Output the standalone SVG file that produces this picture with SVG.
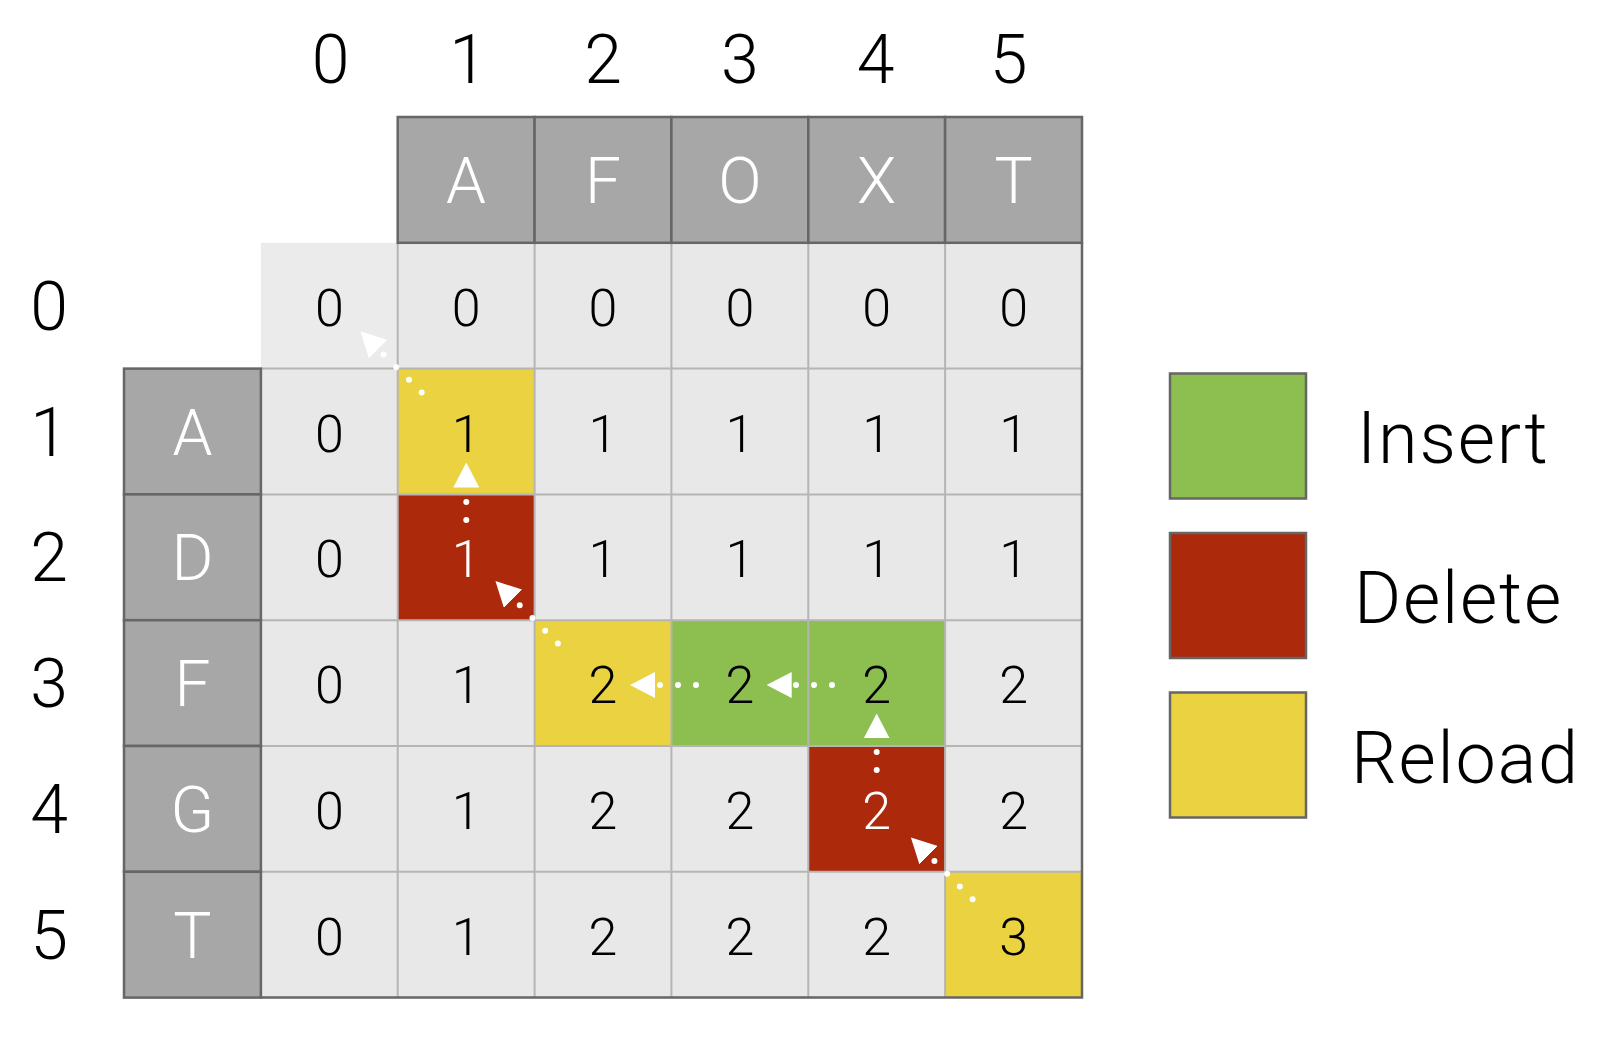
<svg xmlns="http://www.w3.org/2000/svg" width="1606" height="1044" viewBox="0 0 1606 1044">
<style>
text{font-family:Roboto,"Liberation Sans",sans-serif;font-weight:300;text-anchor:middle}
.idx{font-size:68px;fill:#000}
.hd{fill:#a6a7a6;stroke:#666;stroke-width:2.5}
.hl{font-size:64px;fill:#fff}
.cell{fill:#e8e8e8}
.v{font-size:52px;fill:#000}
.vw{font-size:52px;fill:#fff}
.ye{fill:#ebd240}
.rd{fill:#ac290b}
.gr{fill:#8cbe50}
.grid{stroke:#b5b5b5;stroke-width:2;fill:none}
.outer{stroke:#666;stroke-width:2.5;fill:none}
.lg{stroke:#666;stroke-width:2.5}
.lt{font-size:72px;fill:#000;text-anchor:start;letter-spacing:1.8px}
.ar{fill:none;stroke:#fff;stroke-width:6;stroke-linecap:round;stroke-dasharray:0 18;marker-end:url(#tri)}
</style>
<defs>
<marker id="tri" markerUnits="userSpaceOnUse" viewBox="0 0 25 26" refX="0" refY="13" markerWidth="25" markerHeight="26" orient="auto">
<path d="M0,0 L25,13 L0,26 Z" fill="#fff"/>
</marker>
</defs>
<rect width="1606" height="1044" fill="#fff"/>

<g id="col-indices">
<text class="idx" x="330.5" y="83">0</text>
<text class="idx" x="468" y="83">1</text>
<text class="idx" x="603" y="83">2</text>
<text class="idx" x="739.9" y="83">3</text>
<text class="idx" x="875.5" y="83">4</text>
<text class="idx" x="1008.6" y="83">5</text>
</g>
<g id="row-indices">
<text class="idx" x="49" y="330">0</text>
<text class="idx" x="49" y="455.5">1</text>
<text class="idx" x="49" y="581.3">2</text>
<text class="idx" x="49" y="707.1">3</text>
<text class="idx" x="49" y="832.9">4</text>
<text class="idx" x="49" y="958.7">5</text>
</g>

<g id="cells">
<g id="c0-0"><rect x="260.9" y="242.8" width="136.8" height="125.8" fill="#ebebeb"/><text class="v" x="329.3" y="325.7">0</text></g>
<g id="c0-1"><rect class="cell" x="397.7" y="242.8" width="136.9" height="125.8"/><text class="v" x="466.1" y="325.7">0</text></g>
<g id="c0-2"><rect class="cell" x="534.6" y="242.8" width="136.8" height="125.8"/><text class="v" x="603" y="325.7">0</text></g>
<g id="c0-3"><rect class="cell" x="671.4" y="242.8" width="136.9" height="125.8"/><text class="v" x="739.9" y="325.7">0</text></g>
<g id="c0-4"><rect class="cell" x="808.3" y="242.8" width="136.8" height="125.8"/><text class="v" x="876.7" y="325.7">0</text></g>
<g id="c0-5"><rect class="cell" x="945.1" y="242.8" width="136.9" height="125.8"/><text class="v" x="1013.6" y="325.7">0</text></g>

<g id="c1-0"><rect class="cell" x="260.9" y="368.6" width="136.8" height="125.8"/><text class="v" x="329.3" y="451.5">0</text></g>
<g id="c1-1"><rect class="ye" x="397.7" y="368.6" width="136.9" height="125.8"/><text class="v" x="466.1" y="451.5">1</text></g>
<g id="c1-2"><rect class="cell" x="534.6" y="368.6" width="136.8" height="125.8"/><text class="v" x="603" y="451.5">1</text></g>
<g id="c1-3"><rect class="cell" x="671.4" y="368.6" width="136.9" height="125.8"/><text class="v" x="739.9" y="451.5">1</text></g>
<g id="c1-4"><rect class="cell" x="808.3" y="368.6" width="136.8" height="125.8"/><text class="v" x="876.7" y="451.5">1</text></g>
<g id="c1-5"><rect class="cell" x="945.1" y="368.6" width="136.9" height="125.8"/><text class="v" x="1013.6" y="451.5">1</text></g>

<g id="c2-0"><rect class="cell" x="260.9" y="494.4" width="136.8" height="125.8"/><text class="v" x="329.3" y="577.3">0</text></g>
<g id="c2-1"><rect class="rd" x="397.7" y="494.4" width="136.9" height="125.8"/><text class="vw" x="466.1" y="577.3">1</text></g>
<g id="c2-2"><rect class="cell" x="534.6" y="494.4" width="136.8" height="125.8"/><text class="v" x="603" y="577.3">1</text></g>
<g id="c2-3"><rect class="cell" x="671.4" y="494.4" width="136.9" height="125.8"/><text class="v" x="739.9" y="577.3">1</text></g>
<g id="c2-4"><rect class="cell" x="808.3" y="494.4" width="136.8" height="125.8"/><text class="v" x="876.7" y="577.3">1</text></g>
<g id="c2-5"><rect class="cell" x="945.1" y="494.4" width="136.9" height="125.8"/><text class="v" x="1013.6" y="577.3">1</text></g>

<g id="c3-0"><rect class="cell" x="260.9" y="620.2" width="136.8" height="125.8"/><text class="v" x="329.3" y="703.1">0</text></g>
<g id="c3-1"><rect class="cell" x="397.7" y="620.2" width="136.9" height="125.8"/><text class="v" x="466.1" y="703.1">1</text></g>
<g id="c3-2"><rect class="ye" x="534.6" y="620.2" width="136.8" height="125.8"/><text class="v" x="603" y="703.1">2</text></g>
<g id="c3-3"><rect class="gr" x="671.4" y="620.2" width="136.9" height="125.8"/><text class="v" x="739.9" y="703.1">2</text></g>
<g id="c3-4"><rect class="gr" x="808.3" y="620.2" width="136.8" height="125.8"/><text class="v" x="876.7" y="703.1">2</text></g>
<g id="c3-5"><rect class="cell" x="945.1" y="620.2" width="136.9" height="125.8"/><text class="v" x="1013.6" y="703.1">2</text></g>

<g id="c4-0"><rect class="cell" x="260.9" y="746" width="136.8" height="125.8"/><text class="v" x="329.3" y="828.9">0</text></g>
<g id="c4-1"><rect class="cell" x="397.7" y="746" width="136.9" height="125.8"/><text class="v" x="466.1" y="828.9">1</text></g>
<g id="c4-2"><rect class="cell" x="534.6" y="746" width="136.8" height="125.8"/><text class="v" x="603" y="828.9">2</text></g>
<g id="c4-3"><rect class="cell" x="671.4" y="746" width="136.9" height="125.8"/><text class="v" x="739.9" y="828.9">2</text></g>
<g id="c4-4"><rect class="rd" x="808.3" y="746" width="136.8" height="125.8"/><text class="vw" x="876.7" y="828.9">2</text></g>
<g id="c4-5"><rect class="cell" x="945.1" y="746" width="136.9" height="125.8"/><text class="v" x="1013.6" y="828.9">2</text></g>

<g id="c5-0"><rect class="cell" x="260.9" y="871.8" width="136.8" height="125.8"/><text class="v" x="329.3" y="954.7">0</text></g>
<g id="c5-1"><rect class="cell" x="397.7" y="871.8" width="136.9" height="125.8"/><text class="v" x="466.1" y="954.7">1</text></g>
<g id="c5-2"><rect class="cell" x="534.6" y="871.8" width="136.8" height="125.8"/><text class="v" x="603" y="954.7">2</text></g>
<g id="c5-3"><rect class="cell" x="671.4" y="871.8" width="136.9" height="125.8"/><text class="v" x="739.9" y="954.7">2</text></g>
<g id="c5-4"><rect class="cell" x="808.3" y="871.8" width="136.8" height="125.8"/><text class="v" x="876.7" y="954.7">2</text></g>
<g id="c5-5"><rect class="ye" x="945.1" y="871.8" width="136.9" height="125.8"/><text class="v" x="1013.6" y="954.7">3</text></g>
</g>

<g id="grid-lines">
<path class="grid" d="M397.7,242.8V997.6 M534.6,242.8V997.6 M671.4,242.8V997.6 M808.3,242.8V997.6 M945.1,242.8V997.6 M260.9,368.6H1082 M260.9,494.4H1082 M260.9,620.2H1082 M260.9,746H1082 M260.9,871.8H1082"/>
<path class="outer" d="M1082,242.8V997.6H260.9"/>
</g>

<g id="header">
<g id="h-A"><rect class="hd" x="397.7" y="117" width="136.9" height="125.8"/><text class="hl" x="466.1" y="202.7">A</text></g>
<g id="h-F"><rect class="hd" x="534.6" y="117" width="136.8" height="125.8"/><text class="hl" x="603" y="202.7">F</text></g>
<g id="h-O"><rect class="hd" x="671.4" y="117" width="136.9" height="125.8"/><text class="hl" x="739.9" y="202.7">O</text></g>
<g id="h-X"><rect class="hd" x="808.3" y="117" width="136.8" height="125.8"/><text class="hl" x="876.7" y="202.7">X</text></g>
<g id="h-T"><rect class="hd" x="945.1" y="117" width="136.9" height="125.8"/><text class="hl" x="1013.6" y="202.7">T</text></g>
</g>

<g id="row-labels">
<g id="r-A"><rect class="hd" x="124" y="368.6" width="136.9" height="125.8"/><text class="hl" x="192.4" y="454.5">A</text></g>
<g id="r-D"><rect class="hd" x="124" y="494.4" width="136.9" height="125.8"/><text class="hl" x="192.4" y="580.3">D</text></g>
<g id="r-F"><rect class="hd" x="124" y="620.2" width="136.9" height="125.8"/><text class="hl" x="192.4" y="706.1">F</text></g>
<g id="r-G"><rect class="hd" x="124" y="746" width="136.9" height="125.8"/><text class="hl" x="192.4" y="831.9">G</text></g>
<g id="r-T"><rect class="hd" x="124" y="871.8" width="136.9" height="125.8"/><text class="hl" x="192.4" y="957.7">T</text></g>
</g>

<g id="connectors">
<path class="ar" d="M421.7,392.6 L378.1,349"/>
<path class="ar" d="M466.3,520 V487.5"/>
<path class="ar" d="M557.9,643.5 L513.1,598.7"/>
<path class="ar" d="M696,685 H655"/>
<path class="ar" d="M832,685 H791.7"/>
<path class="ar" d="M876.7,770 V738.4"/>
<path class="ar" d="M972.6,899.3 L928.6,855.3"/>
</g>

<g id="legend">
<g id="lg-insert"><rect class="lg gr" x="1170" y="373.5" width="136" height="125"/><text class="lt" x="1357" y="463.3">Insert</text></g>
<g id="lg-delete"><rect class="lg rd" x="1170" y="533" width="136" height="125"/><text class="lt" x="1354" y="623.3">Delete</text></g>
<g id="lg-reload"><rect class="lg ye" x="1170" y="692.5" width="136" height="125"/><text class="lt" x="1351" y="782.7">Reload</text></g>
</g>
</svg>
